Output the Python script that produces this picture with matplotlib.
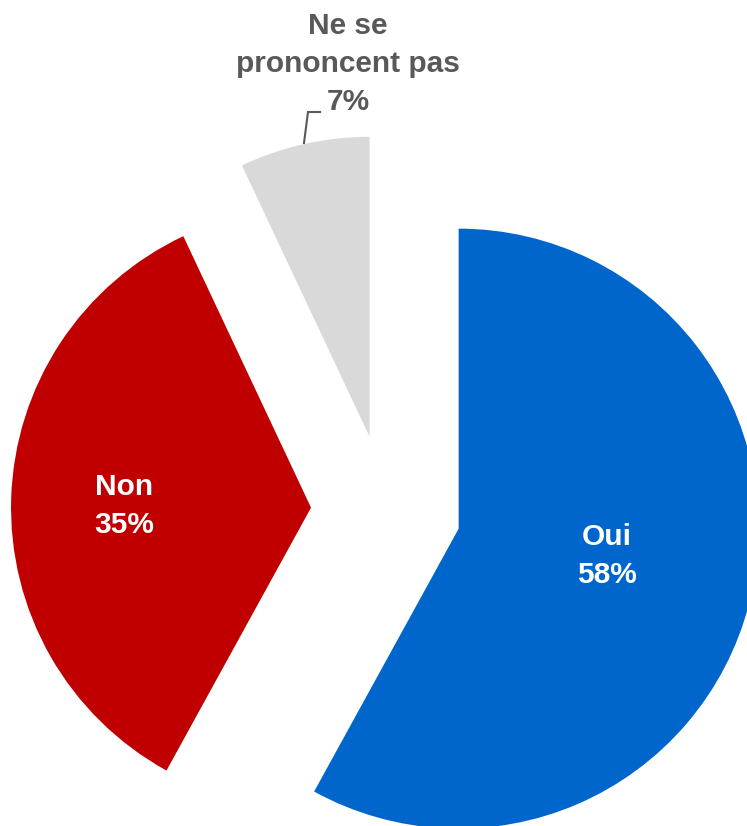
import matplotlib
matplotlib.use("Agg")
import matplotlib.pyplot as plt

categories = ["Oui", "Non", "Ne se\nprononcent pas"]
values = [58, 35, 7]
colors = ["#0066CC", "#C00000", "#D9D9D9"]

W, H = 747, 826
fig = plt.figure(figsize=(W / 100, H / 100), dpi=100)
ax = fig.add_axes([0, 0, 1, 1])

def py(y):
    return H - y

# explode is in data units (pixels here)
ax.pie(values, colors=colors, startangle=90, counterclock=False,
       explode=[75, 75, 75], radius=300, center=(386, py(510)),
       frame=True, wedgeprops=dict(linewidth=0))
ax.set_xlim(0, W)
ax.set_ylim(0, H)
ax.set_aspect("auto")
ax.axis("off")

font = dict(family=["Liberation Sans", "DejaVu Sans"], fontweight="bold", fontsize=21.5)
ax.text(607, py(556), f"{categories[0]}\n{values[0]}%", color="white",
        ha="center", va="center", linespacing=1.45, **font)
ax.text(124, py(506), f"{categories[1]}\n{values[1]}%", color="white",
        ha="center", va="center", linespacing=1.45, **font)
ax.text(348, py(64), f"{categories[2]}\n{values[2]}%", color="#595959",
        ha="center", va="center", linespacing=1.45, **font)
ax.plot([304, 308, 320], [py(143), py(112), py(112)], color="#595959", lw=1.5,
        solid_joinstyle="miter")

fig.savefig("out.png", dpi=100)
